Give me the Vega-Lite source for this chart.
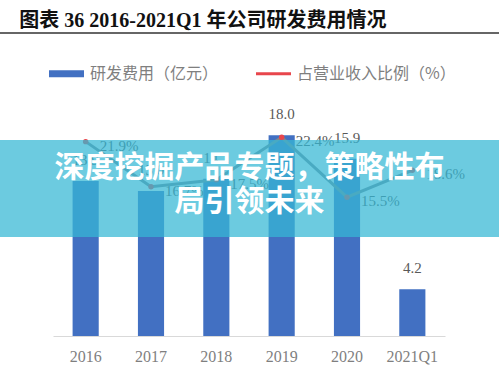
{
  "$schema": "https://vega.github.io/schema/vega-lite/v6.json",
  "width": 499,
  "height": 223,
  "autosize": {"type": "none"},
  "padding": {"left": 0, "right": 0, "top": 113, "bottom": 40},
  "background": "white",
  "config": {"view": {"stroke": null}, "font": "Noto Sans CJK SC"},
  "title": {
    "text": "图表 36 2016-2021Q1 年公司研发费用情况",
    "anchor": "start",
    "dx": 20,
    "offset": -19,
    "baseline": "bottom",
    "font": "Liberation Serif, Noto Sans CJK SC",
    "fontSize": 20,
    "fontWeight": "bold",
    "color": "#111111"
  },
  "data": {
    "values": [
      {"year": "2016", "rd": 13.9, "pct": 21.9},
      {"year": "2017", "rd": 13.0, "pct": 16.7},
      {"year": "2018", "rd": 14.1, "pct": 17.5},
      {"year": "2019", "rd": 18.0, "pct": 22.4},
      {"year": "2020", "rd": 15.9, "pct": 15.5},
      {"year": "2021Q1", "rd": 4.2, "pct": 18.6}
    ]
  },
  "resolve": {"scale": {"y": "independent"}},
  "layer": [
    {
      "mark": {"type": "bar", "color": "#4270C2"},
      "encoding": {
        "x": {
          "field": "year", "type": "nominal", "sort": null,
          "scale": {"range": [53, 445], "paddingInner": 0.6, "paddingOuter": 0.3},
          "axis": {
            "title": null, "domainColor": "#d9d9d9", "domainWidth": 1, "ticks": false,
            "labelFont": "Liberation Serif", "labelFontSize": 16, "labelColor": "#7f7f7f",
            "labelPadding": 12, "labelAngle": 0, "grid": false
          }
        },
        "y": {"field": "rd", "type": "quantitative", "scale": {"domain": [0, 20]}, "axis": null},
        "color": {
          "datum": "研发费用（亿元）", "type": "nominal",
          "scale": {"domain": ["研发费用（亿元）", "占营业收入比例（%）"], "range": ["#4270C2", "#E8464C"]},
          "legend": {
            "orient": "none", "legendX": 48, "legendY": -58, "direction": "horizontal",
            "title": null, "symbolSize": 1225, "symbolType": "M-1,-0.2H1V0.2H-1Z",
            "labelFont": "Noto Sans CJK SC", "labelFontSize": 16, "labelColor": "#7f7f7f",
            "labelOffset": 5, "columnPadding": 36, "symbolOpacity": 1,
            "encode": {"symbols": {"update": {"shape": {"signal": "datum.index === 0 ? 'M-1,-0.2H1V0.2H-1Z' : 'M-1,-0.09H1V0.09H-1Z'"}}}}
          }
        }
      }
    },
    {
      "mark": {"type": "line", "color": "#7d8790", "strokeWidth": 3},
      "encoding": {
        "x": {"field": "year", "type": "nominal", "sort": null},
        "y": {"field": "pct", "type": "quantitative", "scale": {"domain": [-0.5, 25.2]}, "axis": null}
      }
    },
    {
      "mark": {"type": "point", "filled": true, "size": 30, "opacity": 1},
      "encoding": {
        "x": {"field": "year", "type": "nominal", "sort": null},
        "y": {"field": "pct", "type": "quantitative", "scale": {"domain": [-0.5, 25.2]}, "axis": null},
        "color": {"datum": "占营业收入比例（%）", "type": "nominal"}
      }
    },
    {
      "mark": {"type": "text", "dy": -21, "font": "Liberation Serif", "fontSize": 15, "color": "#595959"},
      "encoding": {
        "x": {"field": "year", "type": "nominal", "sort": null},
        "y": {"field": "rd", "type": "quantitative", "scale": {"domain": [0, 20]}, "axis": null},
        "text": {"field": "rd", "format": ".1f"}
      }
    },
    {
      "transform": [{"calculate": "format(datum.pct, '.1f') + '%'", "as": "plabel"}],
      "mark": {"type": "text", "align": "left", "dx": 14, "dy": 4, "font": "Liberation Serif", "fontSize": 15, "color": "#595959"},
      "encoding": {
        "x": {"field": "year", "type": "nominal", "sort": null},
        "y": {"field": "pct", "type": "quantitative", "scale": {"domain": [-0.5, 25.2]}, "axis": null},
        "text": {"field": "plabel"}
      }
    },
    {
      "data": {"values": [{}]},
      "mark": {"type": "rule", "color": "#333333", "strokeWidth": 1.5},
      "encoding": {
        "y": {"datum": 27.17, "type": "quantitative", "scale": {"domain": [0, 20]}, "axis": null}
      }
    },
    {
      "data": {"values": [{}]},
      "mark": {"type": "rect", "color": "#35B8D4", "opacity": 0.73},
      "encoding": {
        "y": {"datum": 8.88, "type": "quantitative", "scale": {"domain": [0, 20]}, "axis": null},
        "y2": {"datum": 17.58}
      }
    },
    {
      "data": {"values": [{}]},
      "mark": {"type": "text", "text": "深度挖掘产品专题，策略性布", "font": "Noto Sans CJK SC", "fontSize": 30, "fontWeight": "bold", "color": "white", "baseline": "middle"},
      "encoding": {
        "y": {"datum": 15.1, "type": "quantitative", "scale": {"domain": [0, 20]}, "axis": null}
      }
    },
    {
      "data": {"values": [{}]},
      "mark": {"type": "text", "text": "局引领未来", "font": "Noto Sans CJK SC", "fontSize": 30, "fontWeight": "bold", "color": "white", "baseline": "middle"},
      "encoding": {
        "y": {"datum": 12.0, "type": "quantitative", "scale": {"domain": [0, 20]}, "axis": null}
      }
    }
  ]
}
